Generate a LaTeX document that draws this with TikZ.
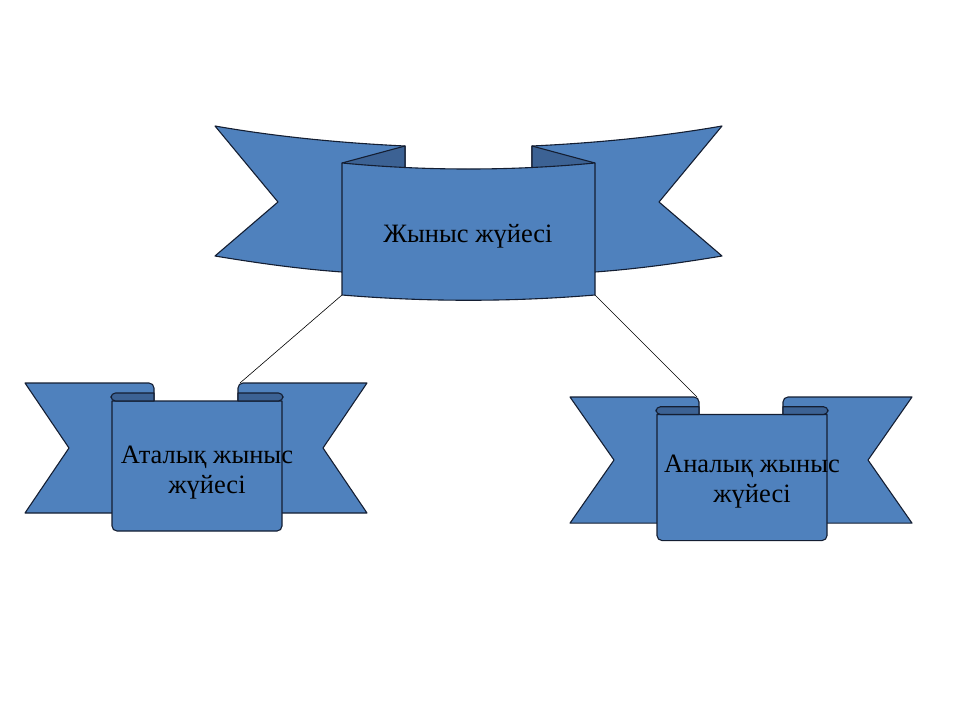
\documentclass[tikz,border=0pt]{standalone}
\usepackage{fontspec}
\setmainfont{Liberation Serif}
\usepackage{tikz}
\definecolor{ribbonblue}{RGB}{79,129,189}
\definecolor{folddark}{RGB}{60,98,148}
\definecolor{ribbonline}{RGB}{20,30,50}
\tikzstyle{ribbon} = [fill=ribbonblue, draw=ribbonline, line width=1.1pt, line join=round]
\tikzstyle{fold} = [fill=folddark, draw=ribbonline, line width=1.1pt, line join=round]
\tikzstyle{bannertext} = [font=\fontsize{26.5}{30}\selectfont, text=black, align=center]
\tikzstyle{link} = [draw, line width=0.6pt]

% scroll ribbon: #1,#2 = top centre, #3 = yscale, #4 = name
\newcommand{\scrollribbon}[4]{%
  \begin{scope}[shift={(#1,#2)}, yscale=#3]
    \path [ribbon] (-127,65) -- (-171,0) [rounded corners=5] -- (-42,0) -- (-42,20) [sharp corners] -- (-42,130) -- (-171,130) -- cycle;
    \path [ribbon] (127,65) -- (171,0) [rounded corners=5] -- (42,0) -- (42,20) [sharp corners] -- (42,130) -- (171,130) -- cycle;
    \path [ribbon] (86,18) -- (-84,18) [rounded corners=5] -- (-84,148) -- (86,148) [sharp corners] -- cycle;
    \path [fold] (-42,10) [rounded corners=4.5] -- (-85,10) -- (-85,18) [sharp corners] -- (-42,18) -- cycle;
    \path [fold] (42,10) [rounded corners=4.5] -- (87,10) -- (87,18) [sharp corners] -- (42,18) -- cycle;
    \coordinate (#4-lroll) at (-44,0);
    \coordinate (#4-rroll) at (44,0);
  \end{scope}}

\begin{document}
\begin{tikzpicture}[x=1pt, y=-1pt]
  \useasboundingbox (0,0) rectangle (960,720);
  % top ribbon
  \path [ribbon] (278,202) -- (215,126) .. controls (278,137) and (342,143) .. (405,146) -- (405,280) -- (342,272) .. controls (300,269) and (257,263) .. (215,256) -- cycle;
  \path [ribbon] (659,202) -- (722,126) .. controls (659,137) and (595,143) .. (532,146) -- (532,280) -- (595,272) .. controls (637,269) and (680,263) .. (722,256) -- cycle;
  \path [fold] (342,163) -- (405,146) -- (405,167.5) .. controls (384,168.5) and (363,166) .. (342,163);
  \path [fold] (595,163) -- (532,146) -- (532,167.5) .. controls (553,168.5) and (574,166) .. (595,163);
  \path [ribbon] (342,163) .. controls (426,171) and (511,171) .. (595,163) -- (595,295) .. controls (511,302) and (426,302) .. (342,295) -- cycle;
  \coordinate (top-sw) at (342,295);
  \coordinate (top-se) at (595,295);
  % lower ribbons
  \scrollribbon{196}{383}{1}{atalyq}
  \scrollribbon{741}{397}{0.97}{analyq}
  % Place nodes
  \node [bannertext] (main) at (468,236) {Жыныс жүйесі};
  \node [bannertext] (atalyq) at (207,473) {Аталық жыныс\\ жүйесі};
  \node [bannertext] (analyq) at (752,482) {Аналық жыныс\\ жүйесі};
  % Draw edges
  \path [link] (top-sw) -- (atalyq-rroll);
  \path [link] (top-se) -- (analyq-lroll);
\end{tikzpicture}
\end{document}
